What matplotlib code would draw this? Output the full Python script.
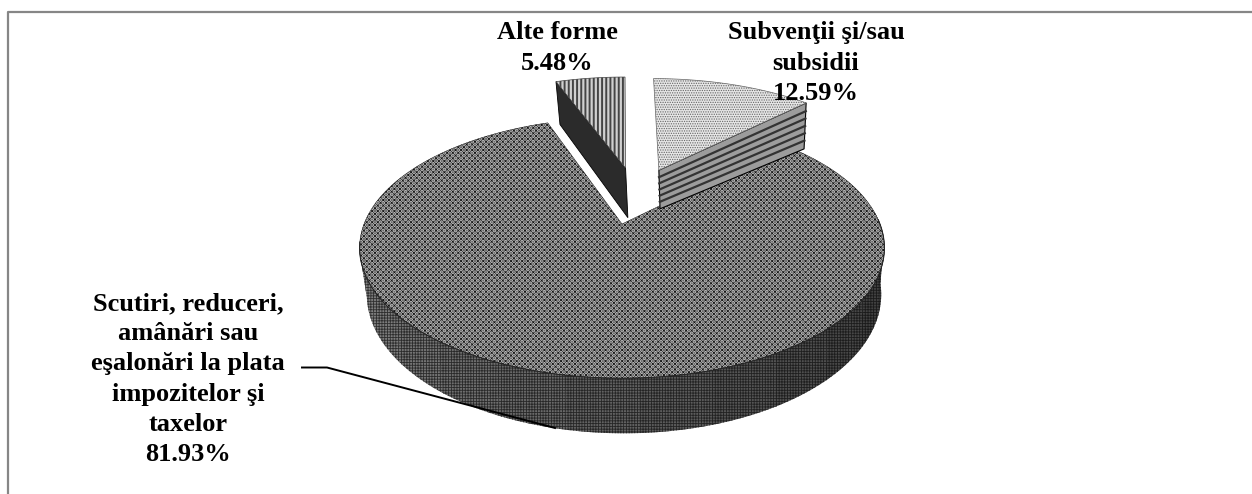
import numpy as np
import matplotlib
matplotlib.use("Agg")
import matplotlib.pyplot as plt

labels = ["Subvenţii şi/sau\nsubsidii\n12.59%", "Scutiri, reduceri,\namânări sau\neşalonări la plata\nimpozitelor şi\ntaxelor\n81.93%", "Alte forme\n5.48%"]
values = [12.59, 81.93, 5.48]

plt.rcParams['hatch.linewidth'] = 0.6
W, H = 1252, 494
fig = plt.figure(figsize=(W/100, H/100), dpi=100)
ax = fig.add_axes([0, 0, 1, 1])
ax.set_xlim(0, W); ax.set_ylim(H, 0); ax.axis('off')

CX, CY, A0, B0, P, DEPTH = 622, 224, 258, 126, 0.183, 45
def proj(u, v, drop=0.0):
    s = 1/(1 + P*v)
    x = CX + A0*u*s*(1 - 0.02*drop) + 2*drop
    return x, CY - B0*v*s + drop*DEPTH*s

# slice angles: clockwise from 12 o'clock, from the values
fr = np.array(values)/sum(values)*360
starts = 90 - np.concatenate([[0], np.cumsum(fr)[:-1]])
ends = starts - fr
offs = [(0.155, 0.463), (0, 0), (0.015, 0.483)]

def arc(i, drop=0.0, a0=None, a1=None):
    a0 = starts[i] if a0 is None else a0
    a1 = ends[i] if a1 is None else a1
    t = np.radians(np.linspace(a0, a1, 200))
    return proj(offs[i][0]+np.cos(t), offs[i][1]+np.sin(t), drop)

def top(i):
    x, y = arc(i); ax0, ay0 = proj(*offs[i])
    return np.r_[ax0, x], np.r_[ay0, y]

def wall(i, a0, a1):
    x, y = arc(i, 0, a0, a1); xb, yb = arc(i, 1, a0, a1)
    return np.r_[x, xb[::-1]], np.r_[y, yb[::-1]]

def radial(i, ang, k0, k1):
    u0, v0 = offs[i]; t = np.radians(ang)
    a, b = proj(u0, v0); c, d = proj(u0+np.cos(t), v0+np.sin(t))
    e, f = proj(u0+np.cos(t), v0+np.sin(t), k1); g, h = proj(u0, v0, k0)
    return [a, c, e, g], [b, d, f, h]

# big slice: outer wall (darkening to the right), then top face
edges = np.linspace(-182, 8, 15)
for a0, a1 in zip(edges[:-1], edges[1:]):
    q = (a0 + 182)/190
    g = 0.54 - 0.36*q
    h = 0.20 - 0.12*q
    x, y = wall(1, a0, a1 + 0.5)
    ax.fill(x, y, facecolor=(g, g, g), edgecolor=(h, h, h), hatch='++++++', lw=0)
x, y = top(1)
plt.rcParams['hatch.linewidth'] = 0.5
ax.fill(x, y, facecolor='#6c6c6c', edgecolor='#dcdcdc', hatch='++++++', lw=0)
ax.fill(x, y, facecolor='none', edgecolor='#141414', hatch='xxxxxx', lw=0.3)
plt.rcParams['hatch.linewidth'] = 0.6
xa, ya = arc(1, 0, -172, 2)
ax.plot(xa, ya, color='#222222', lw=0.7)

# small slices
x, y = radial(2, starts[2], 1.2, 1.2)
ax.fill(x, y, facecolor='#2b2b2b', edgecolor='black', lw=0.6)
x, y = top(2)
plt.rcParams['hatch.linewidth'] = 1.4
ax.fill(x, y, facecolor='#d0d0d0', edgecolor='#444444', hatch='||||', lw=0.5)
plt.rcParams['hatch.linewidth'] = 0.6

x, y = radial(0, ends[0], 0.93, 1.24)
ax.fill(x, y, facecolor='#9c9c9c', edgecolor='black', lw=0.8)
u0, v0 = offs[0]; t = np.radians(ends[0])
for f in np.linspace(0.18, 0.82, 5):
    xa, ya = proj(u0, v0, 0.93*f); xb, yb = proj(u0+np.cos(t), v0+np.sin(t), 1.24*f)
    ax.plot([xa, xb], [ya, yb], color='#333333', lw=1.6)
x, y = top(0)
ax.fill(x, y, facecolor='#e6e6e6', edgecolor='#666666', hatch='.......', lw=0.5)

# text
tk = dict(family='Liberation Serif', weight='bold', size=19, ha='center', va='center', linespacing=1.4, color='black')
ax.text(816, 63, labels[0], **tk)
ax.text(557, 48, labels[2], **tk)
ax.text(188, 379, labels[1], **tk)

# leader and frame
ax.plot([302, 327, 555], [367.5, 367.5, 428], color='black', lw=1.4)
ax.plot([7.5, 7.5, W], [H, 12.5, 12.5], color='#868686', lw=1.6)

fig.savefig('out.png', dpi=100)
